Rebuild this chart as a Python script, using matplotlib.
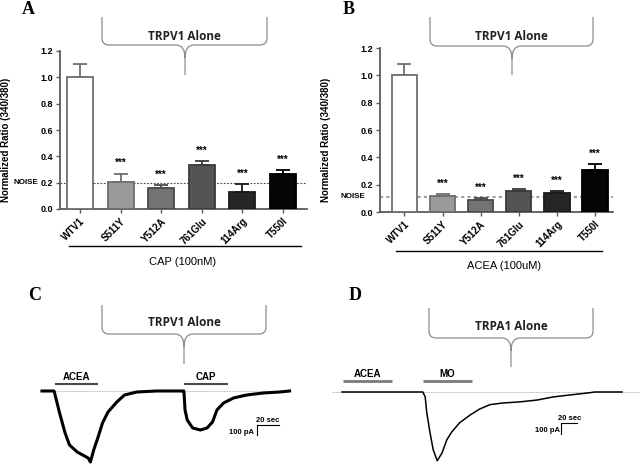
import matplotlib
matplotlib.use("Agg")
import matplotlib.pyplot as plt
from matplotlib.path import Path
from matplotlib.patches import PathPatch

# ---------------- data ----------------
categories = ["WTV1", "S511Y", "Y512A", "761Glu", "114Arg", "T550I"]
a_means = [1.00, 0.206, 0.161, 0.337, 0.126, 0.269]
a_errs = [0.105, 0.063, 0.018, 0.028, 0.063, 0.025]
a_noise = 0.20
b_means = [1.00, 0.117, 0.088, 0.151, 0.137, 0.307]
b_errs = [0.083, 0.015, 0.014, 0.017, 0.017, 0.044]
b_noise = 0.112
yticks = [0.0, 0.2, 0.4, 0.6, 0.8, 1.0, 1.2]

# trace C (time s, current pA)
c_time = [0, 11, 16, 21, 25, 32, 37, 42, 44, 47, 51, 55, 60, 68, 75, 86, 104, 128,
          129, 130, 132, 137, 144, 150, 155, 159, 165, 174, 186, 201, 216, 225]
c_curr = [0, 0, -220, -420, -540, -610, -640, -670, -710, -590, -460, -320, -210, -110, -40, -10, 0, 0,
          0, -190, -290, -370, -390, -370, -310, -190, -120, -70, -40, -20, -10, 0]
c_drugs = ["ACEA", "CAP"]
c_drug_on = [12, 129]
c_drug_off = [51, 169]

# trace D
d_time = [0, 101, 104, 106, 110, 114, 119, 125, 131, 137, 147, 160, 172, 185, 201, 222,
          244, 264, 285, 307, 316, 350]
d_curr = [0, 0, -45, -190, -370, -525, -625, -555, -435, -365, -280, -210, -155, -115, -100, -90,
          -73, -45, -27, -9, 0, 0]
d_drugs = ["ACEA", "MO"]
d_drug_on = [1, 101]
d_drug_off = [62, 162]

W, H = 640, 467
SANS = "Liberation Sans"
SERIF = "Liberation Serif"
BRACE_FONT = "Open Sans"

fig = plt.figure(figsize=(6.4, 4.67), dpi=100)
canvas = fig.add_axes([0, 0, 1, 1])
canvas.set_xlim(0, W)
canvas.set_ylim(H, 0)
canvas.axis("off")


def px_axes(x0, y0, x1, y1):
    return fig.add_axes([x0 / W, 1 - y1 / H, (x1 - x0) / W, (y1 - y0) / H])


def brace(x0, x1, xc, ytop, yh, ytip, text, ytext, r=7, rc=9):
    C3 = Path.CURVE3
    verts = [(x0, ytop), (x0, yh - r), (x0, yh), (x0 + r, yh), (xc - rc, yh), (xc, yh), (xc, yh + rc * 1.4),
             (xc, ytip),
             (xc, yh + rc * 1.4), (xc, yh), (xc + rc, yh), (x1 - r, yh), (x1, yh), (x1, yh - r), (x1, ytop)]
    codes = [Path.MOVETO, Path.LINETO, C3, C3, Path.LINETO, C3, C3, Path.LINETO,
             Path.MOVETO, C3, C3, Path.LINETO, C3, C3, Path.LINETO]
    canvas.add_patch(PathPatch(Path(verts, codes), fill=False, edgecolor="#8c8c8c", lw=0.9))
    canvas.text((x0 + x1) / 2, ytext, text, ha="center", va="center", fontsize=8.5,
                fontweight="bold", family=BRACE_FONT, color="#222222")


fills = ["#ffffff", "#9a9a9a", "#737373", "#545454", "#262626", "#050505"]
edges = ["#6e6e6e", "#6e6e6e", "#4a4a4a", "#3a3a3a", "#1a1a1a", "#000000"]


def bar_panel(ax, means, errs, noise, xlim, width, noise_color, noise_lw, noise_x):
    xs = list(range(len(categories)))
    for i, (m, e) in enumerate(zip(means, errs)):
        ax.bar(i, m, width, color=fills[i], edgecolor=edges[i], lw=1.3, zorder=3)
        ax.errorbar(i, m, yerr=[[0], [e]], fmt="none", ecolor=edges[i], elinewidth=1.3,
                    capsize=5, capthick=1.3, zorder=2)
        if i > 0:
            ax.annotate("***", (i, m + e), xytext=(0, 4), textcoords="offset points",
                        ha="center", va="bottom", fontsize=7, fontweight="bold", family=SANS)
    ax.axhline(noise, color=noise_color, lw=noise_lw, ls=(0, (1.5, 1.5)), zorder=1)
    ax.text(noise_x, noise, "NOISE", transform=ax.get_yaxis_transform(), ha="right", va="center",
            fontsize=5.8, fontweight="bold", family=SANS)
    ax.set_xlim(*xlim)
    ax.set_ylim(0, 1.2)
    ax.set_yticks(yticks)
    ax.set_yticklabels([f"{v:.1f}" for v in yticks], fontsize=6.5, fontweight="bold", family=SANS)
    ax.set_xticks(xs)
    ax.set_xticklabels(categories, rotation=45, ha="right", rotation_mode="anchor",
                       fontsize=7, fontweight="bold", family=SANS)
    for s in ["top", "right"]:
        ax.spines[s].set_visible(False)
    for s in ["left", "bottom"]:
        ax.spines[s].set_color("#5a5a5a")
        ax.spines[s].set_linewidth(1.3)
    ax.tick_params(axis="both", length=3, width=1, color="#5a5a5a", pad=2)
    ax.patch.set_alpha(0)


axA = px_axes(60, 51, 307, 209)
bar_panel(axA, a_means, a_errs, a_noise, (-0.49, 5.59), 0.64, "#444444", 0.8, -0.09)
axB = px_axes(380, 48, 613, 212)
bar_panel(axB, b_means, b_errs, b_noise, (-0.64, 5.47), 0.66, "#a0a0a0", 1.5, -0.065)

# y labels
for xpos in [6, 326]:
    canvas.text(xpos, 140, "Normalized Ratio (340/380)", rotation=90, ha="center", va="center",
                fontsize=7, fontweight="bold", family=SANS)

# treatment lines under bar charts
canvas.plot([69, 301], [246, 246], color="black", lw=1)
canvas.text(183, 262, "CAP (100nM)", ha="center", va="center", fontsize=8, family=SANS)
canvas.plot([396, 602], [251, 251], color="black", lw=1)
canvas.text(504, 266, "ACEA (100uM)", ha="center", va="center", fontsize=8, family=SANS)

# panel letters
for lx, ly, lt in [(28, 10, "A"), (349, 9, "B"), (35, 296, "C"), (355, 296, "D")]:
    canvas.text(lx, ly, lt, ha="center", va="center", fontsize=13, fontweight="bold", family=SERIF)

# braces
brace(102, 267, 185, 17, 45, 75, "TRPV1 Alone", 36)
brace(430, 593, 512, 17, 46, 75, "TRPV1 Alone", 36)
brace(102, 266, 184, 305, 334, 364, "TRPV1 Alone", 323)
brace(429, 593, 511, 308, 338, 367, "TRPA1 Alone", 327)


def trace_panel(ax, t, cur, xlim, ylim, lw, drugs, on, off, bar_y, bar_color, bar_lw,
                base_span, sb_t, sb_i):
    ax.plot(base_span, [0, 0], color="#9a9a9a", lw=0.6, ls=(0, (1, 1)), zorder=1)
    ax.plot(t, cur, color="black", lw=lw, zorder=3, solid_joinstyle="round")
    for name, a, b in zip(drugs, on, off):
        ax.plot([a, b], [bar_y, bar_y], color=bar_color, lw=bar_lw, solid_capstyle="butt")
        ax.text((a + b) / 2, bar_y + 18, name, ha="center", va="bottom", fontsize=7,
                fontweight="bold", family=SANS)
    ax.plot([sb_t, sb_t + 20], [sb_i, sb_i], color="black", lw=0.8)
    ax.plot([sb_t, sb_t], [sb_i, sb_i - 100], color="black", lw=0.8)
    ax.text(sb_t + 10, sb_i + 8, "20 sec", ha="center", va="bottom", fontsize=5.5,
            fontweight="bold", family=SANS)
    ax.text(sb_t - 2, sb_i - 70, "100 pA", ha="right", va="center", fontsize=5.5,
            fontweight="bold", family=SANS)
    ax.set_xlim(*xlim)
    ax.set_ylim(*ylim)
    ax.axis("off")


axC = px_axes(30, 370, 300, 467)
trace_panel(axC, c_time, c_curr, (-10.9, 234.5), (-760, 210), 2.2, c_drugs, c_drug_on, c_drug_off,
            70, "#4a4a4a", 1.5, [-2, 226], 195, -340)
axD = px_axes(330, 370, 640, 467)
trace_panel(axD, d_time, d_curr, (-15, 372.5), (-682, 200), 1.1, d_drugs, d_drug_on, d_drug_off,
            100, "#7a7a7a", 2.0, [-12, 372], 274, -282)

fig.savefig("out.png", dpi=100)
